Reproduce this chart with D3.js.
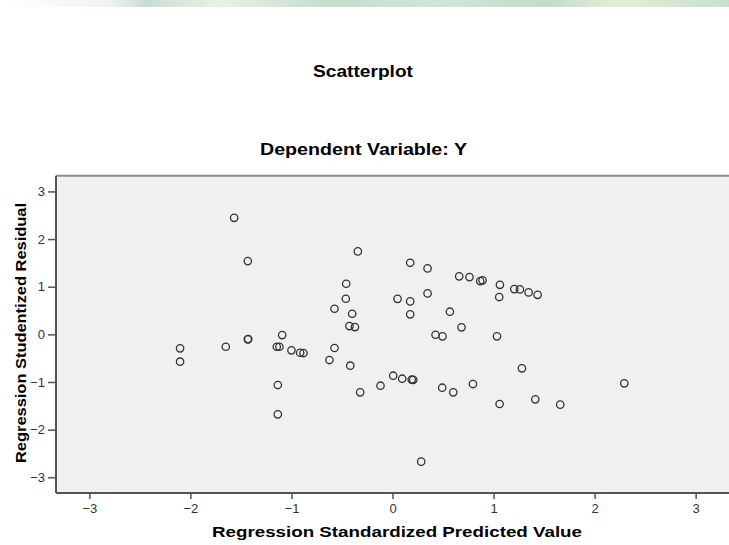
<!DOCTYPE html>
<html>
<head>
<meta charset="utf-8">
<script src="https://cdn.jsdelivr.net/npm/d3@7"></script>
<style>
  body { margin: 0; background: #fff; }
  svg { display: block; font-family: "Liberation Sans", Arial, sans-serif; }
</style>
</head>
<body>
<svg id="chart" width="729" height="545"></svg>
<script>
// residual plot (SPSS style): predicted value vs studentized residual

const predicted = [
  -1.567, -1.432, -0.343, -0.458, -0.462, 0.050, -0.574, -0.399, -0.426, -0.372,
  -2.102, -2.102, -1.650, -1.432, -1.428, -1.092, -1.145, -1.119, -1.000, -0.914,
  -0.881, -0.574, -0.624, -0.418, 0.175, 0.347, 0.660, 0.762, 0.868, 0.891,
  1.063, 1.205, 1.261, 1.347, 1.436, 1.056, 0.175, 0.347, 0.175, 0.568,
  0.683, 0.426, 0.495, 1.034, 1.281, -1.135, -1.135, -0.320, -0.119, 0.007,
  0.096, 0.190, 0.205, 0.492, 0.284, 2.294, 1.060, 1.413, 1.660, 0.601,
  0.796,
];
const residual = [
  2.446, 1.538, 1.741, 1.062, 0.747, 0.745, 0.537, 0.432, 0.174, 0.153,
  -0.294, -0.574, -0.260, -0.105, -0.100, -0.015, -0.260, -0.260, -0.336, -0.386,
  -0.392, -0.287, -0.539, -0.658, 1.502, 1.384, 1.217, 1.202, 1.118, 1.133,
  1.040, 0.950, 0.944, 0.880, 0.830, 0.783, 0.692, 0.860, 0.420, 0.475,
  0.147, -0.008, -0.042, -0.042, -0.713, -1.064, -1.679, -1.217, -1.078, -0.868,
  -0.931, -0.950, -0.955, -1.120, -2.672, -1.028, -1.462, -1.364, -1.476, -1.217,
  -1.043,
];
const ticks = [-3, -2, -1, 0, 1, 2, 3];

const title = 'Scatterplot';
const subtitle = 'Dependent Variable: Y';
const xLabel = 'Regression Standardized Predicted Value';
const yLabel = 'Regression Studentized Residual';

const svg = d3.select('#chart');
const plot = { left: 56, right: 729, top: 175.7, bottom: 493 };

const x = d3.scaleLinear().domain([-3.33, 3.33]).range([plot.left, plot.right]);
const y = d3.scaleLinear().domain([-3.33, 3.33]).range([plot.bottom, plot.top]);

// faint watermark band along the top edge
const grad = svg.append('defs').append('linearGradient').attr('id', 'wm');
[[0, '#ffffff'], [0.15, '#eef3f1'], [0.2, '#c9ddd2'], [0.3, '#e9f1e6'], [0.45, '#c6dccf'],
 [0.6, '#d2e4d8'], [0.75, '#c3dbcc'], [0.85, '#e2efd6'], [1, '#c9dfcd']]
  .forEach(([o, c]) => grad.append('stop').attr('offset', o).attr('stop-color', c));
svg.append('rect').attr('x', 0).attr('y', 0).attr('width', 729).attr('height', 7)
  .attr('fill', 'url(#wm)');

// titles
svg.append('text').attr('x', 363).attr('y', 77).attr('text-anchor', 'middle')
  .attr('font-size', 17).attr('font-weight', 'bold').attr('fill', '#000')
  .attr('textLength', 100).attr('lengthAdjust', 'spacingAndGlyphs').text(title);
svg.append('text').attr('x', 363.5).attr('y', 155).attr('text-anchor', 'middle')
  .attr('font-size', 17).attr('font-weight', 'bold').attr('fill', '#000')
  .attr('textLength', 207).attr('lengthAdjust', 'spacingAndGlyphs').text(subtitle);

// plot background + frame
svg.append('rect')
  .attr('x', plot.left).attr('y', plot.top)
  .attr('width', plot.right - plot.left).attr('height', plot.bottom - plot.top)
  .attr('fill', '#f0f0f0');
svg.append('line').attr('x1', plot.left).attr('x2', plot.right)
  .attr('y1', plot.top).attr('y2', plot.top)
  .attr('stroke', '#8c8c8c').attr('stroke-width', 2);

// axes
const gx = svg.append('g').attr('transform', `translate(0,${plot.bottom})`)
  .call(d3.axisBottom(x).tickValues(ticks).tickSize(6).tickPadding(5).tickFormat(d3.format('d')));
const gy = svg.append('g').attr('transform', `translate(${plot.left},0)`)
  .call(d3.axisLeft(y).tickValues(ticks).tickSize(8).tickPadding(3).tickFormat(d3.format('d')));

for (const g of [gx, gy]) {
  g.select('.domain').attr('stroke', '#555').attr('stroke-width', 2);
  g.selectAll('.tick line').attr('stroke', '#555').attr('stroke-width', 1.5);
  g.selectAll('.tick text').attr('fill', '#333').attr('font-size', 13)
    .attr('font-family', '"Liberation Sans", Arial, sans-serif');
}
gx.select('.domain').attr('d', `M${plot.left},0H${plot.right}`);
gy.select('.domain').attr('d', `M0,${plot.top}V${plot.bottom}`);

// points
svg.append('g').selectAll('circle')
  .data(predicted.map((p, i) => [p, residual[i]]))
  .join('circle')
  .attr('cx', (d) => x(d[0]))
  .attr('cy', (d) => y(d[1]))
  .attr('r', 3.7)
  .attr('fill', 'none')
  .attr('stroke', '#333')
  .attr('stroke-width', 1.3);

// axis labels
svg.append('text').attr('x', 397).attr('y', 537).attr('text-anchor', 'middle')
  .attr('font-size', 15).attr('font-weight', 'bold').attr('fill', '#000')
  .attr('textLength', 370).attr('lengthAdjust', 'spacingAndGlyphs').text(xLabel);
svg.append('text').attr('transform', 'translate(26,333) rotate(-90)').attr('text-anchor', 'middle')
  .attr('font-size', 15).attr('font-weight', 'bold').attr('fill', '#000')
  .attr('textLength', 260).attr('lengthAdjust', 'spacingAndGlyphs').text(yLabel);
</script>
</body>
</html>
